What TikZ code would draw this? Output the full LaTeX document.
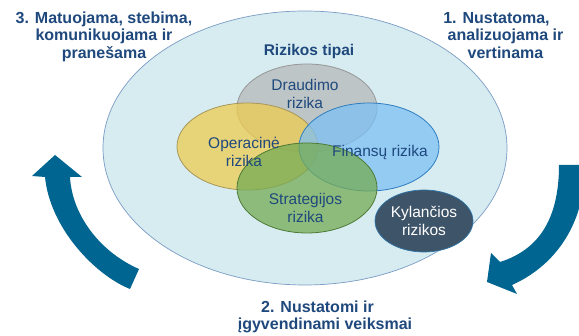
\documentclass[tikz,border=0pt]{standalone}
\usepackage{fontspec}
\setmainfont{Liberation Sans}
\usetikzlibrary{shapes.geometric}
\definecolor{navy}{RGB}{31,73,125}
\definecolor{arrowblue}{RGB}{0,101,145}
\definecolor{bgfill}{RGB}{214,236,241}
\definecolor{bgline}{RGB}{122,156,196}
\definecolor{grayfill}{RGB}{182,185,184}
\definecolor{grayline}{RGB}{150,150,150}
\definecolor{yellowfill}{RGB}{238,204,80}
\definecolor{yellowline}{RGB}{168,150,90}
\definecolor{bluefill}{RGB}{125,192,244}
\definecolor{blueline}{RGB}{46,125,192}
\definecolor{greenfill}{RGB}{117,171,84}
\definecolor{greenline}{RGB}{78,122,53}
\definecolor{slate}{RGB}{62,84,104}
\definecolor{slateline}{RGB}{47,117,168}
\begin{document}
\begin{tikzpicture}[x=1pt,y=-1pt,
  hd/.style={align=center, inner sep=0pt, text=navy, font=\fontsize{16}{17.5}\selectfont\bfseries},
  lbl/.style={align=center, inner sep=0pt, text=navy, font=\fontsize{15.5}{18}\selectfont},
  venn/.style={ellipse, inner sep=0pt, minimum width=140pt, minimum height=88pt, fill opacity=0.75, line width=0.8pt},
  bigarrow/.style={fill=arrowblue, draw=none}]
\useasboundingbox (0,0) rectangle (579,336);
\fill[white] (0,0) rectangle (579,336);
% big ellipse
\node[ellipse, inner sep=0pt, minimum width=404pt, minimum height=274pt, fill=bgfill, draw=bgline, line width=0.7pt] (types) at (305,148) {};
% Venn ellipses
\node[venn, fill=grayfill, draw=grayline] (draud) at (307,108) {};
\node[venn, fill=yellowfill, draw=yellowline, minimum height=87pt, minimum width=141pt] (oper) at (247.5,146.5) {};
\node[venn, fill=bluefill, draw=blueline] (fin) at (369,147) {};
\node[venn, fill=greenfill, draw=greenline, minimum height=90pt] (strat) at (307,188) {};
\node[ellipse, inner sep=0pt, minimum width=98pt, minimum height=62pt, fill=slate, draw=slateline, line width=0.7pt] (kyl) at (424,221) {};
% labels
\node[anchor=base, inner sep=0pt, text=navy, font=\fontsize{15.5}{18}\selectfont\bfseries] (rt) at (309,55.3) {Rizikos tipai};
\node[lbl] (tdraud) at (305,94) {Draudimo\\rizika};
\node[lbl] (toper) at (244,152.4) {Operacinė\\rizika};
\node[lbl, anchor=base] (tfin) at (380,156.5) {Finansų rizika};
\node[lbl] (tstrat) at (305.5,207.8) {Strategijos\\rizika};
\node[lbl, text=white] (tkyl) at (424,221) {Kylančios\\rizikos};
% headings
\node[hd] (h3) at (104,36.6) {3. Matuojama, stebima,\\komunikuojama ir\\pranešama};
\node[hd] (h1) at (505.5,35.5) {1. Nustatoma,\hspace*{18pt}\\analizuojama ir\\vertinama};
\node[hd] (h2) at (325,316.8) {2. Nustatomi ir\hspace*{15pt}\\įgyvendinami veiksmai};
% curved arrows
\begin{scope}
\clip (0,0) rectangle (579,336);
\fill[bigarrow] (130,289) .. controls (95,275) and (50,228) .. (45,177)
  -- (32,176) -- (55,155) -- (82,177) -- (70,177)
  .. controls (72,215) and (100,252) .. (139,269) -- cycle;
\fill[bigarrow] (559,165) -- (585,165)
  .. controls (585,230) and (550,268) .. (512,285)
  -- (517,294) -- (487,282) -- (491,253) -- (500,262)
  .. controls (538,250) and (559,220) .. (559,165) -- cycle;
\end{scope}
\end{tikzpicture}
\end{document}
